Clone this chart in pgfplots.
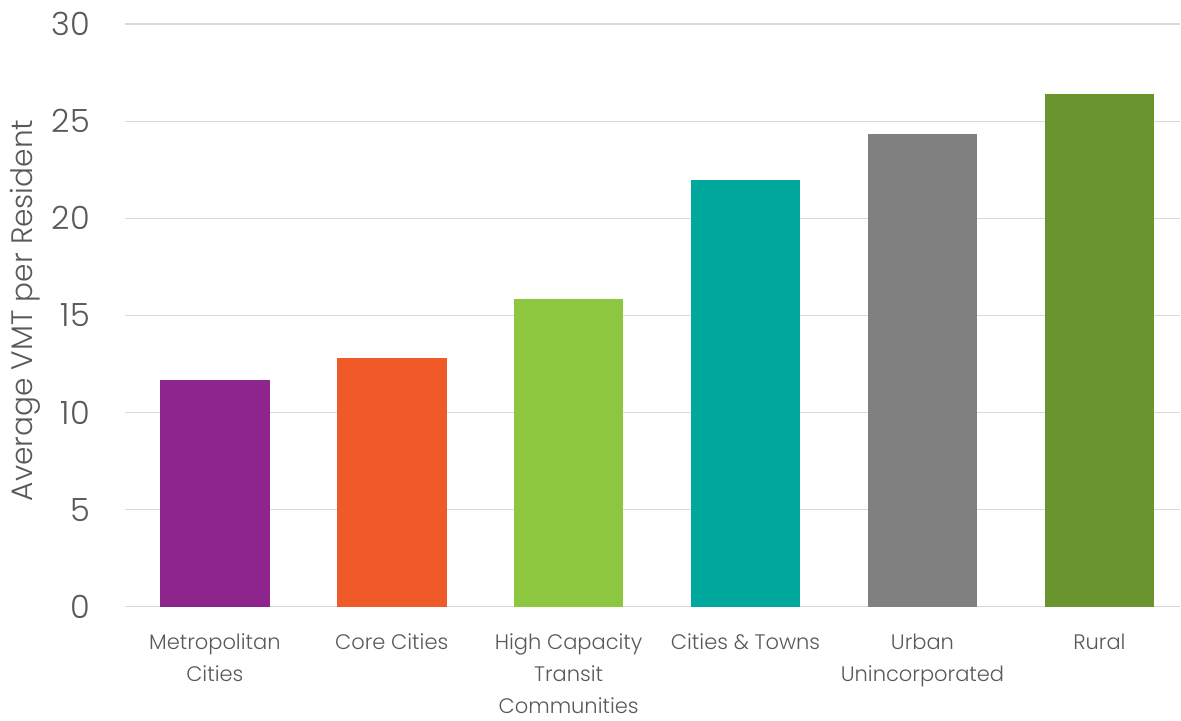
\documentclass[border=0pt]{standalone}
\usepackage{pgfplots}
\pgfplotsset{compat=1.18}
\usepackage{fontspec}
\setmainfont{Poppins Light}
\definecolor{cPurple}{HTML}{8E258D}
\definecolor{cOrange}{HTML}{F05A28}
\definecolor{cLgreen}{HTML}{8DC63F}
\definecolor{cTeal}{HTML}{00A79D}
\definecolor{cGray}{HTML}{808080}
\definecolor{cGreen}{HTML}{6A952E}
\definecolor{txt}{HTML}{595959}
\definecolor{gridc}{HTML}{D9D9D9}
\begin{document}
\begin{tikzpicture}
\begin{axis}[
  name=ax,
  scale only axis,
  width=528pt, height=291.5pt,
  ybar, bar shift=0pt, bar width=0.62,
  xmin=-0.508, xmax=5.458,
  ymin=0, ymax=30,
  ytick={0,5,...,30},
  xtick={0,1,2,3,4,5},
  xticklabels={Metropolitan\\Cities, Core Cities, High Capacity\\Transit\\Communities, Cities \& Towns, Urban\\Unincorporated, Rural},
  xticklabel style={align=center, font=\fontsize{10.5}{16}\selectfont, text=txt, yshift=-10pt},
  yticklabel style={font=\fontsize{16}{18}\selectfont, text=txt, xshift=-14pt},
  /pgf/number format/assume math mode=true,
  axis line style={draw=none},
  major tick length=0pt,
  ymajorgrids, grid style={draw=gridc, line width=0.6pt},
  ylabel={Average VMT per Resident},
  ylabel style={font=\fontsize{14.8}{16}\selectfont, text=txt, at={(axis description cs:0,0.5)}, anchor=center, yshift=50pt, xshift=2.5pt},
  clip=false,
]
\addplot[fill=cPurple, draw=none] coordinates {(0,11.65)};
\addplot[fill=cOrange, draw=none] coordinates {(1,12.8)};
\addplot[fill=cLgreen, draw=none] coordinates {(2,15.85)};
\addplot[fill=cTeal, draw=none] coordinates {(3,21.95)};
\addplot[fill=cGray, draw=none] coordinates {(4,24.35)};
\addplot[fill=cGreen, draw=none] coordinates {(5,26.4)};
\end{axis}
\useasboundingbox (ax.south west)++(-62.5pt,-55.5pt) rectangle ++(590.5pt,359pt);
\end{tikzpicture}
\end{document}
